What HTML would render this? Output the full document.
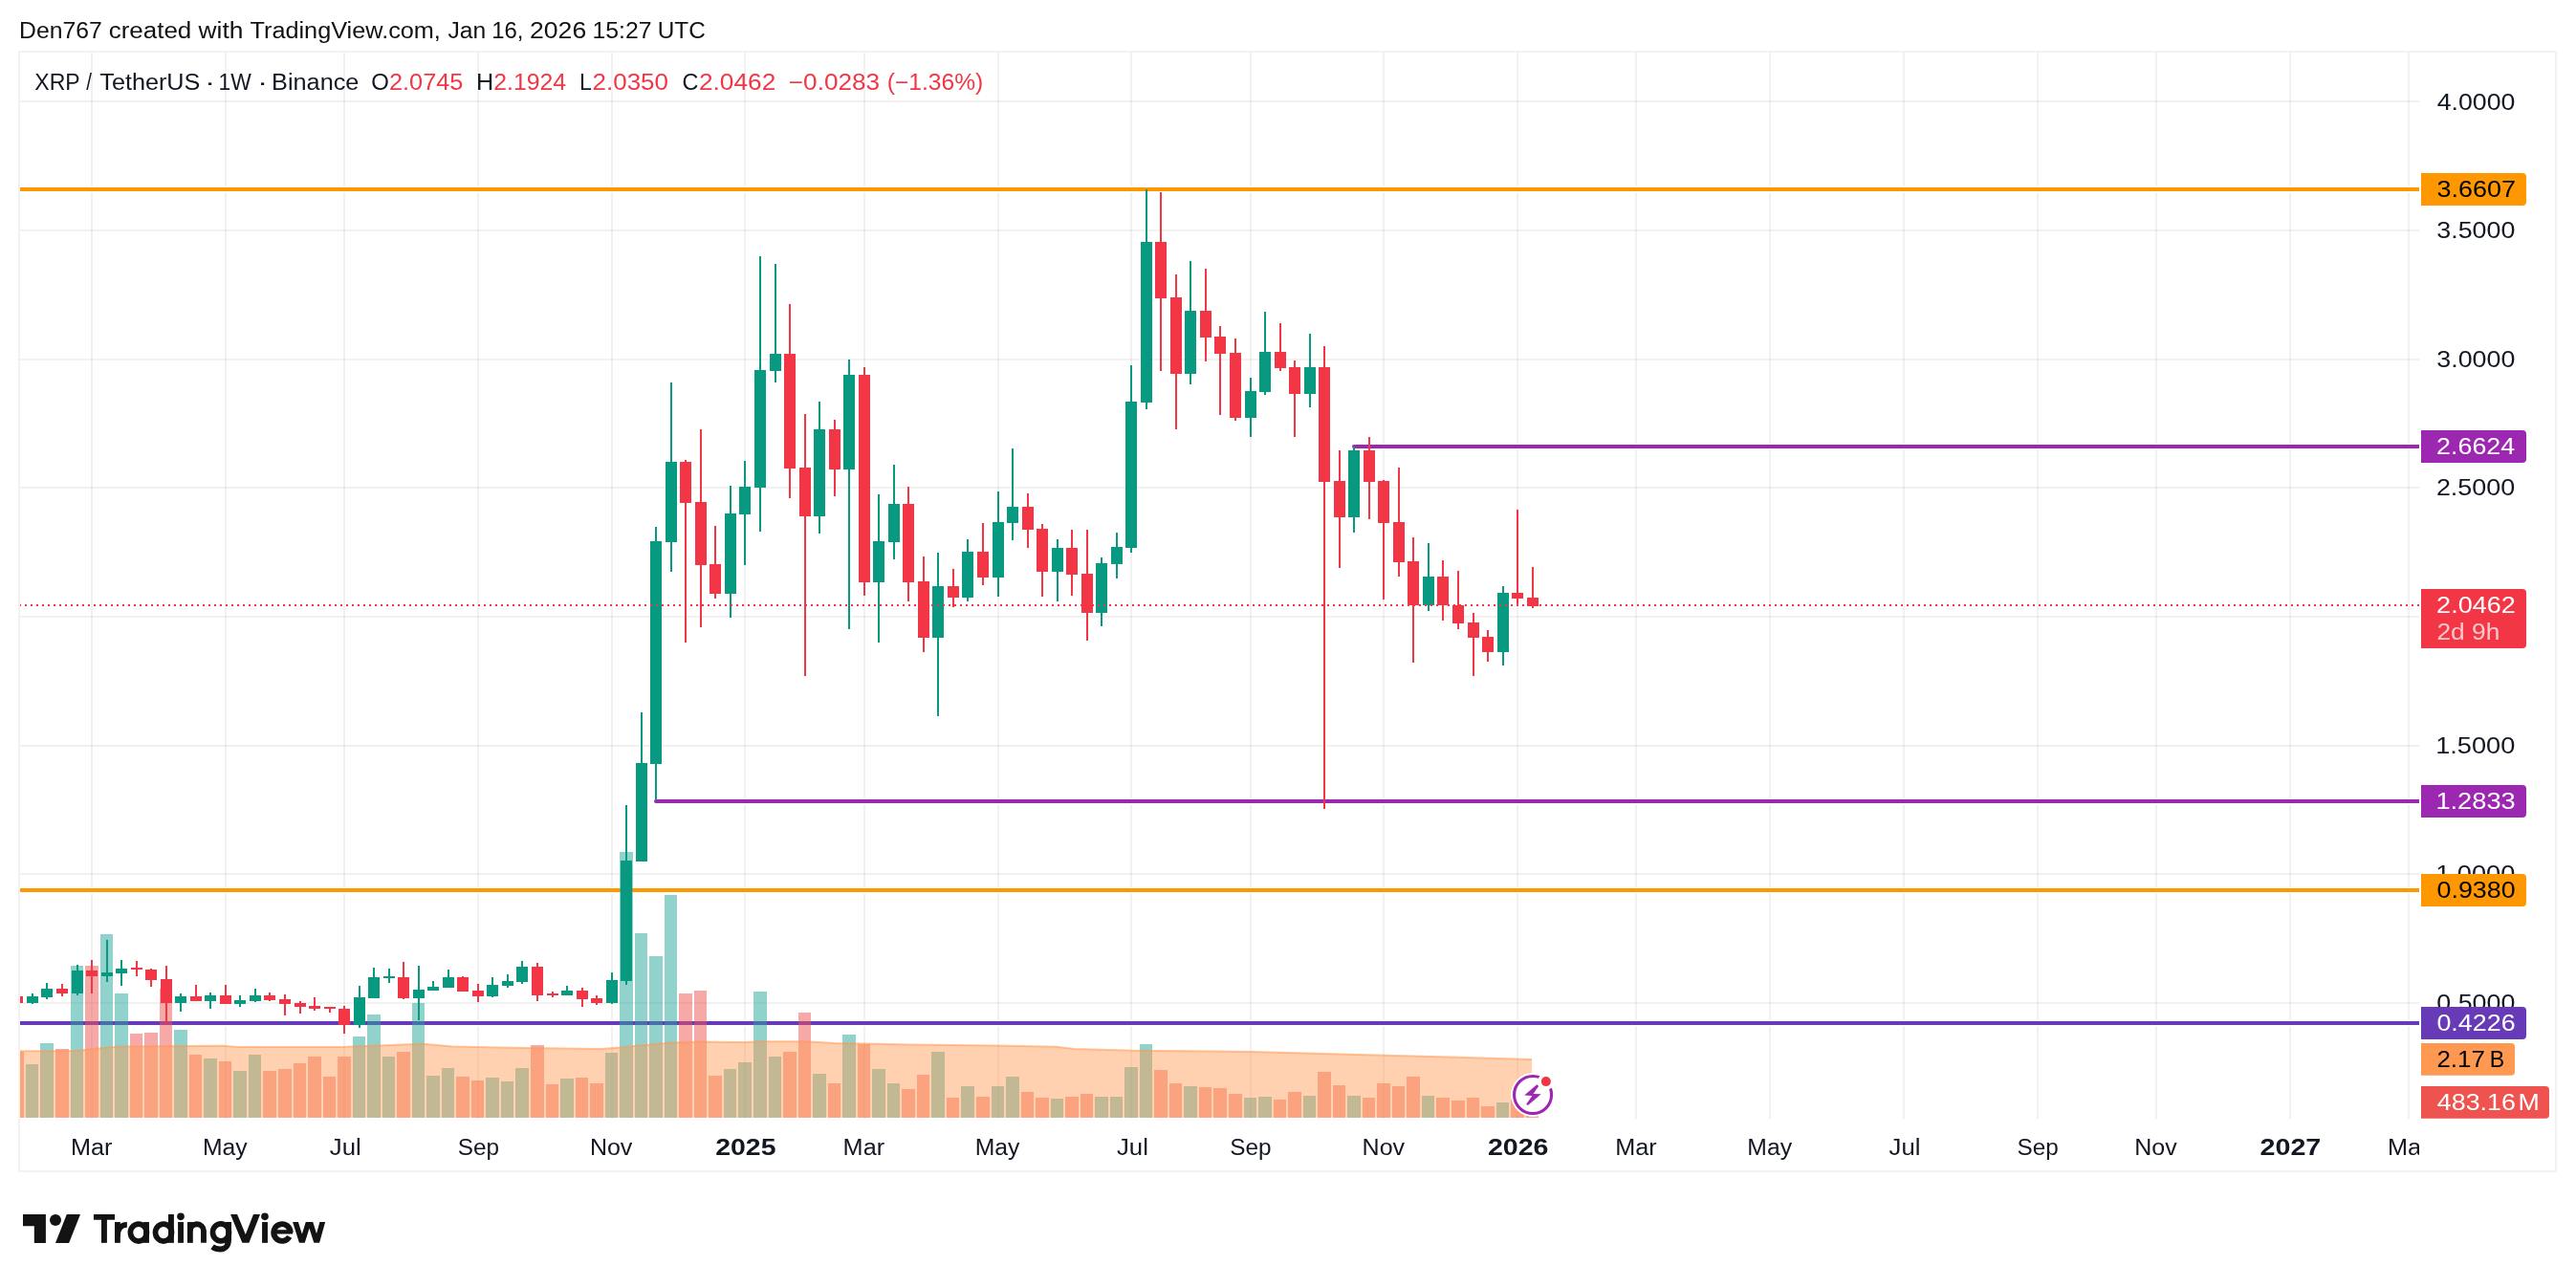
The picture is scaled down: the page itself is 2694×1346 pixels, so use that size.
<!DOCTYPE html>
<html><head><meta charset="utf-8"><title>XRP / TetherUS chart</title>
<style>html,body{margin:0;padding:0;background:#fff;}body{width:2694px;height:1346px;overflow:hidden;}svg{display:block;}text{font-family:"Liberation Sans", sans-serif;}</style></head><body>
<svg width="2694" height="1346" viewBox="0 0 2694 1346" style="will-change:transform">
<rect width="2694" height="1346" fill="#ffffff"/>
<defs><clipPath id="pane"><rect x="20" y="55" width="2510" height="1115"/></clipPath><clipPath id="taxis"><rect x="20" y="1169" width="2510" height="56"/></clipPath></defs>
<g shape-rendering="crispEdges" fill="rgba(40,52,60,0.065)">
<rect x="95" y="55" width="2" height="1115"/>
<rect x="235" y="55" width="2" height="1115"/>
<rect x="359" y="55" width="2" height="1115"/>
<rect x="499" y="55" width="2" height="1115"/>
<rect x="639" y="55" width="2" height="1115"/>
<rect x="778" y="55" width="2" height="1115"/>
<rect x="903" y="55" width="2" height="1115"/>
<rect x="1043" y="55" width="2" height="1115"/>
<rect x="1182" y="55" width="2" height="1115"/>
<rect x="1307" y="55" width="2" height="1115"/>
<rect x="1446" y="55" width="2" height="1115"/>
<rect x="1586" y="55" width="2" height="1115"/>
<rect x="1710" y="55" width="2" height="1115"/>
<rect x="1850" y="55" width="2" height="1115"/>
<rect x="1990" y="55" width="2" height="1115"/>
<rect x="2130" y="55" width="2" height="1115"/>
<rect x="2254" y="55" width="2" height="1115"/>
<rect x="2394" y="55" width="2" height="1115"/>
<rect x="2518" y="55" width="2" height="1115"/>
<rect x="20" y="105" width="2510" height="2"/>
<rect x="20" y="240" width="2510" height="2"/>
<rect x="20" y="375" width="2510" height="2"/>
<rect x="20" y="509" width="2510" height="2"/>
<rect x="20" y="644" width="2510" height="2"/>
<rect x="20" y="779" width="2510" height="2"/>
<rect x="20" y="913" width="2510" height="2"/>
<rect x="20" y="1048" width="2510" height="2"/>
</g>
<g clip-path="url(#pane)">
<line x1="20.0" y1="198.0" x2="2530.0" y2="198.0" stroke="#fff" stroke-width="6.6" stroke-linecap="butt"/>
<line x1="20.0" y1="198.0" x2="2530.0" y2="198.0" stroke="#ff9800" stroke-width="4" stroke-linecap="butt"/>
<line x1="20.0" y1="931.0" x2="2530.0" y2="931.0" stroke="#fff" stroke-width="6.6" stroke-linecap="butt"/>
<line x1="20.0" y1="931.0" x2="2530.0" y2="931.0" stroke="#ff9800" stroke-width="4" stroke-linecap="butt"/>
<line x1="20.0" y1="1070.0" x2="2530.0" y2="1070.0" stroke="#fff" stroke-width="6.6" stroke-linecap="butt"/>
<line x1="20.0" y1="1070.0" x2="2530.0" y2="1070.0" stroke="#673ab7" stroke-width="4" stroke-linecap="butt"/>
<line x1="1416.0" y1="467.0" x2="2540.0" y2="467.0" stroke="#fff" stroke-width="6.6" stroke-linecap="round"/>
<line x1="1416.0" y1="467.0" x2="2540.0" y2="467.0" stroke="#9c27b0" stroke-width="4" stroke-linecap="round"/>
<line x1="686.0" y1="838.0" x2="2540.0" y2="838.0" stroke="#fff" stroke-width="6.6" stroke-linecap="round"/>
<line x1="686.0" y1="838.0" x2="2540.0" y2="838.0" stroke="#9c27b0" stroke-width="4" stroke-linecap="round"/>
<g shape-rendering="crispEdges">
<rect x="11" y="1100.0" width="14" height="68.8" fill="rgba(239,83,80,0.5)"/>
<rect x="27" y="1113.2" width="13" height="55.6" fill="rgba(38,166,154,0.5)"/>
<rect x="42" y="1091.1" width="14" height="77.7" fill="rgba(38,166,154,0.5)"/>
<rect x="58" y="1097.0" width="14" height="71.8" fill="rgba(239,83,80,0.5)"/>
<rect x="74" y="1010.0" width="13" height="158.8" fill="rgba(38,166,154,0.5)"/>
<rect x="89" y="1010.0" width="14" height="158.8" fill="rgba(239,83,80,0.5)"/>
<rect x="105" y="977.0" width="13" height="191.8" fill="rgba(38,166,154,0.5)"/>
<rect x="120" y="1039.0" width="14" height="129.8" fill="rgba(38,166,154,0.5)"/>
<rect x="136" y="1081.0" width="13" height="87.8" fill="rgba(239,83,80,0.5)"/>
<rect x="151" y="1080.1" width="14" height="88.7" fill="rgba(239,83,80,0.5)"/>
<rect x="167" y="1033.9" width="13" height="134.9" fill="rgba(239,83,80,0.5)"/>
<rect x="182" y="1077.0" width="14" height="91.8" fill="rgba(38,166,154,0.5)"/>
<rect x="198" y="1103.1" width="13" height="65.7" fill="rgba(239,83,80,0.5)"/>
<rect x="213" y="1107.1" width="14" height="61.7" fill="rgba(38,166,154,0.5)"/>
<rect x="229" y="1110.1" width="13" height="58.7" fill="rgba(239,83,80,0.5)"/>
<rect x="244" y="1120.0" width="14" height="48.8" fill="rgba(38,166,154,0.5)"/>
<rect x="260" y="1103.1" width="13" height="65.7" fill="rgba(38,166,154,0.5)"/>
<rect x="275" y="1120.0" width="14" height="48.8" fill="rgba(239,83,80,0.5)"/>
<rect x="291" y="1118.0" width="14" height="50.8" fill="rgba(239,83,80,0.5)"/>
<rect x="307" y="1112.1" width="13" height="56.7" fill="rgba(239,83,80,0.5)"/>
<rect x="322" y="1105.1" width="14" height="63.7" fill="rgba(239,83,80,0.5)"/>
<rect x="338" y="1126.1" width="13" height="42.7" fill="rgba(239,83,80,0.5)"/>
<rect x="353" y="1105.1" width="14" height="63.7" fill="rgba(239,83,80,0.5)"/>
<rect x="369" y="1084.1" width="13" height="84.7" fill="rgba(38,166,154,0.5)"/>
<rect x="384" y="1061.1" width="14" height="107.7" fill="rgba(38,166,154,0.5)"/>
<rect x="400" y="1105.1" width="13" height="63.7" fill="rgba(38,166,154,0.5)"/>
<rect x="415" y="1100.0" width="14" height="68.8" fill="rgba(239,83,80,0.5)"/>
<rect x="431" y="1049.0" width="13" height="119.8" fill="rgba(38,166,154,0.5)"/>
<rect x="446" y="1125.0" width="14" height="43.8" fill="rgba(38,166,154,0.5)"/>
<rect x="462" y="1117.1" width="13" height="51.7" fill="rgba(38,166,154,0.5)"/>
<rect x="477" y="1126.1" width="14" height="42.7" fill="rgba(239,83,80,0.5)"/>
<rect x="493" y="1130.0" width="13" height="38.8" fill="rgba(239,83,80,0.5)"/>
<rect x="508" y="1127.0" width="14" height="41.8" fill="rgba(38,166,154,0.5)"/>
<rect x="524" y="1131.0" width="13" height="37.8" fill="rgba(38,166,154,0.5)"/>
<rect x="539" y="1117.1" width="14" height="51.7" fill="rgba(38,166,154,0.5)"/>
<rect x="555" y="1093.0" width="14" height="75.8" fill="rgba(239,83,80,0.5)"/>
<rect x="571" y="1134.0" width="13" height="34.8" fill="rgba(239,83,80,0.5)"/>
<rect x="586" y="1128.1" width="14" height="40.7" fill="rgba(38,166,154,0.5)"/>
<rect x="602" y="1127.0" width="13" height="41.8" fill="rgba(239,83,80,0.5)"/>
<rect x="617" y="1133.1" width="14" height="35.7" fill="rgba(239,83,80,0.5)"/>
<rect x="633" y="1101.0" width="13" height="67.8" fill="rgba(38,166,154,0.5)"/>
<rect x="648" y="891.0" width="14" height="277.8" fill="rgba(38,166,154,0.5)"/>
<rect x="664" y="975.9" width="13" height="192.9" fill="rgba(38,166,154,0.5)"/>
<rect x="679" y="1000.0" width="14" height="168.8" fill="rgba(38,166,154,0.5)"/>
<rect x="695" y="936.0" width="13" height="232.8" fill="rgba(38,166,154,0.5)"/>
<rect x="710" y="1039.0" width="14" height="129.8" fill="rgba(239,83,80,0.5)"/>
<rect x="726" y="1036.0" width="13" height="132.8" fill="rgba(239,83,80,0.5)"/>
<rect x="741" y="1124.9" width="14" height="43.9" fill="rgba(239,83,80,0.5)"/>
<rect x="757" y="1117.9" width="13" height="50.9" fill="rgba(38,166,154,0.5)"/>
<rect x="772" y="1111.0" width="14" height="57.8" fill="rgba(38,166,154,0.5)"/>
<rect x="788" y="1037.0" width="14" height="131.8" fill="rgba(38,166,154,0.5)"/>
<rect x="804" y="1105.0" width="13" height="63.8" fill="rgba(38,166,154,0.5)"/>
<rect x="819" y="1099.9" width="14" height="68.9" fill="rgba(239,83,80,0.5)"/>
<rect x="835" y="1059.0" width="13" height="109.8" fill="rgba(239,83,80,0.5)"/>
<rect x="850" y="1122.9" width="14" height="45.9" fill="rgba(38,166,154,0.5)"/>
<rect x="866" y="1133.0" width="13" height="35.8" fill="rgba(239,83,80,0.5)"/>
<rect x="881" y="1081.9" width="14" height="86.9" fill="rgba(38,166,154,0.5)"/>
<rect x="897" y="1092.0" width="13" height="76.8" fill="rgba(239,83,80,0.5)"/>
<rect x="912" y="1117.9" width="14" height="50.9" fill="rgba(38,166,154,0.5)"/>
<rect x="928" y="1133.0" width="13" height="35.8" fill="rgba(38,166,154,0.5)"/>
<rect x="943" y="1138.9" width="14" height="29.9" fill="rgba(239,83,80,0.5)"/>
<rect x="959" y="1124.0" width="13" height="44.8" fill="rgba(239,83,80,0.5)"/>
<rect x="974" y="1099.9" width="14" height="68.9" fill="rgba(38,166,154,0.5)"/>
<rect x="990" y="1148.0" width="13" height="20.8" fill="rgba(239,83,80,0.5)"/>
<rect x="1005" y="1136.0" width="14" height="32.8" fill="rgba(38,166,154,0.5)"/>
<rect x="1021" y="1147.0" width="14" height="21.8" fill="rgba(239,83,80,0.5)"/>
<rect x="1037" y="1136.0" width="13" height="32.8" fill="rgba(38,166,154,0.5)"/>
<rect x="1052" y="1126.0" width="14" height="42.8" fill="rgba(38,166,154,0.5)"/>
<rect x="1068" y="1142.0" width="13" height="26.8" fill="rgba(239,83,80,0.5)"/>
<rect x="1083" y="1148.0" width="14" height="20.8" fill="rgba(239,83,80,0.5)"/>
<rect x="1099" y="1149.0" width="13" height="19.8" fill="rgba(38,166,154,0.5)"/>
<rect x="1114" y="1147.0" width="14" height="21.8" fill="rgba(239,83,80,0.5)"/>
<rect x="1130" y="1144.0" width="13" height="24.8" fill="rgba(239,83,80,0.5)"/>
<rect x="1145" y="1147.0" width="14" height="21.8" fill="rgba(38,166,154,0.5)"/>
<rect x="1161" y="1147.0" width="13" height="21.8" fill="rgba(38,166,154,0.5)"/>
<rect x="1176" y="1115.9" width="14" height="52.9" fill="rgba(38,166,154,0.5)"/>
<rect x="1192" y="1092.0" width="13" height="76.8" fill="rgba(38,166,154,0.5)"/>
<rect x="1207" y="1118.9" width="14" height="49.9" fill="rgba(239,83,80,0.5)"/>
<rect x="1223" y="1133.0" width="13" height="35.8" fill="rgba(239,83,80,0.5)"/>
<rect x="1238" y="1136.0" width="14" height="32.8" fill="rgba(38,166,154,0.5)"/>
<rect x="1254" y="1137.0" width="13" height="31.8" fill="rgba(239,83,80,0.5)"/>
<rect x="1269" y="1138.0" width="14" height="30.8" fill="rgba(239,83,80,0.5)"/>
<rect x="1285" y="1144.0" width="14" height="24.8" fill="rgba(239,83,80,0.5)"/>
<rect x="1301" y="1148.0" width="13" height="20.8" fill="rgba(38,166,154,0.5)"/>
<rect x="1316" y="1147.0" width="14" height="21.8" fill="rgba(38,166,154,0.5)"/>
<rect x="1332" y="1150.0" width="13" height="18.8" fill="rgba(239,83,80,0.5)"/>
<rect x="1347" y="1142.0" width="14" height="26.8" fill="rgba(239,83,80,0.5)"/>
<rect x="1363" y="1146.0" width="13" height="22.8" fill="rgba(38,166,154,0.5)"/>
<rect x="1378" y="1120.9" width="14" height="47.9" fill="rgba(239,83,80,0.5)"/>
<rect x="1394" y="1135.0" width="13" height="33.8" fill="rgba(239,83,80,0.5)"/>
<rect x="1409" y="1146.0" width="14" height="22.8" fill="rgba(38,166,154,0.5)"/>
<rect x="1425" y="1148.0" width="13" height="20.8" fill="rgba(239,83,80,0.5)"/>
<rect x="1440" y="1133.0" width="14" height="35.8" fill="rgba(239,83,80,0.5)"/>
<rect x="1456" y="1136.0" width="13" height="32.8" fill="rgba(239,83,80,0.5)"/>
<rect x="1471" y="1126.0" width="14" height="42.8" fill="rgba(239,83,80,0.5)"/>
<rect x="1487" y="1146.0" width="13" height="22.8" fill="rgba(38,166,154,0.5)"/>
<rect x="1502" y="1148.0" width="14" height="20.8" fill="rgba(239,83,80,0.5)"/>
<rect x="1518" y="1151.0" width="14" height="17.8" fill="rgba(239,83,80,0.5)"/>
<rect x="1534" y="1148.0" width="13" height="20.8" fill="rgba(239,83,80,0.5)"/>
<rect x="1549" y="1157.0" width="14" height="11.8" fill="rgba(239,83,80,0.5)"/>
<rect x="1565" y="1153.0" width="13" height="15.8" fill="rgba(38,166,154,0.5)"/>
<rect x="1580" y="1150.0" width="14" height="18.8" fill="rgba(239,83,80,0.5)"/>
<rect x="1596" y="1152.0" width="13" height="16.8" fill="rgba(239,83,80,0.5)"/>
</g>
<polygon points="20.2,1099.2 77.7,1098.9 124.3,1094.5 233.1,1093.7 248.6,1095.0 357.4,1095.0 388.5,1093.7 442.2,1091.7 473.2,1094.5 550.9,1096.1 628.6,1096.9 651.9,1095.3 663.3,1093.9 702.2,1090.4 733.2,1089.6 779.9,1090.1 795.4,1089.2 842.0,1089.2 873.1,1090.9 904.2,1091.4 950.8,1092.5 1040.0,1093.4 1104.6,1094.8 1123.2,1097.1 1185.4,1098.7 1309.7,1099.9 1430.0,1103.2 1602.1,1107.9 1602.1,1168.8 20.2,1168.8" fill="rgba(255,152,80,0.45)"/>
<polyline points="20.2,1099.2 77.7,1098.9 124.3,1094.5 233.1,1093.7 248.6,1095.0 357.4,1095.0 388.5,1093.7 442.2,1091.7 473.2,1094.5 550.9,1096.1 628.6,1096.9 651.9,1095.3 663.3,1093.9 702.2,1090.4 733.2,1089.6 779.9,1090.1 795.4,1089.2 842.0,1089.2 873.1,1090.9 904.2,1091.4 950.8,1092.5 1040.0,1093.4 1104.6,1094.8 1123.2,1097.1 1185.4,1098.7 1309.7,1099.9 1430.0,1103.2 1602.1,1107.9" fill="none" stroke="rgba(255,152,80,0.55)" stroke-width="2"/>
<g shape-rendering="crispEdges">
<rect x="17" y="1042" width="2" height="7" fill="#f23645"/>
<rect x="12" y="1042" width="12" height="7" fill="#f23645"/>
<rect x="33" y="1039" width="2" height="11" fill="#089981"/>
<rect x="28" y="1042" width="12" height="7" fill="#089981"/>
<rect x="48" y="1028" width="2" height="17" fill="#089981"/>
<rect x="43" y="1034" width="12" height="9" fill="#089981"/>
<rect x="64" y="1029" width="2" height="13" fill="#f23645"/>
<rect x="59" y="1034" width="12" height="5" fill="#f23645"/>
<rect x="80" y="1009" width="2" height="32" fill="#089981"/>
<rect x="75" y="1015" width="12" height="24" fill="#089981"/>
<rect x="95" y="1004" width="2" height="35" fill="#f23645"/>
<rect x="90" y="1015" width="12" height="6" fill="#f23645"/>
<rect x="111" y="983" width="2" height="44" fill="#089981"/>
<rect x="106" y="1017" width="12" height="4" fill="#089981"/>
<rect x="126" y="1004" width="2" height="27" fill="#089981"/>
<rect x="121" y="1013" width="12" height="5" fill="#089981"/>
<rect x="142" y="1005" width="2" height="16" fill="#f23645"/>
<rect x="137" y="1012" width="12" height="2" fill="#f23645"/>
<rect x="157" y="1013" width="2" height="19" fill="#f23645"/>
<rect x="152" y="1014" width="12" height="11" fill="#f23645"/>
<rect x="173" y="1010" width="2" height="61" fill="#f23645"/>
<rect x="168" y="1024" width="12" height="25" fill="#f23645"/>
<rect x="188" y="1039" width="2" height="19" fill="#089981"/>
<rect x="183" y="1042" width="12" height="7" fill="#089981"/>
<rect x="204" y="1030" width="2" height="17" fill="#f23645"/>
<rect x="199" y="1042" width="12" height="5" fill="#f23645"/>
<rect x="219" y="1038" width="2" height="17" fill="#089981"/>
<rect x="214" y="1041" width="12" height="6" fill="#089981"/>
<rect x="235" y="1030" width="2" height="20" fill="#f23645"/>
<rect x="230" y="1041" width="12" height="9" fill="#f23645"/>
<rect x="250" y="1041" width="2" height="12" fill="#089981"/>
<rect x="245" y="1046" width="12" height="4" fill="#089981"/>
<rect x="266" y="1034" width="2" height="14" fill="#089981"/>
<rect x="261" y="1041" width="12" height="6" fill="#089981"/>
<rect x="281" y="1038" width="2" height="9" fill="#f23645"/>
<rect x="276" y="1041" width="12" height="5" fill="#f23645"/>
<rect x="297" y="1040" width="2" height="22" fill="#f23645"/>
<rect x="292" y="1045" width="12" height="5" fill="#f23645"/>
<rect x="313" y="1047" width="2" height="13" fill="#f23645"/>
<rect x="308" y="1049" width="12" height="4" fill="#f23645"/>
<rect x="328" y="1043" width="2" height="14" fill="#f23645"/>
<rect x="323" y="1052" width="12" height="3" fill="#f23645"/>
<rect x="344" y="1053" width="2" height="6" fill="#f23645"/>
<rect x="339" y="1053" width="12" height="2" fill="#f23645"/>
<rect x="359" y="1052" width="2" height="29" fill="#f23645"/>
<rect x="354" y="1055" width="12" height="17" fill="#f23645"/>
<rect x="375" y="1031" width="2" height="44" fill="#089981"/>
<rect x="370" y="1043" width="12" height="29" fill="#089981"/>
<rect x="390" y="1012" width="2" height="32" fill="#089981"/>
<rect x="385" y="1022" width="12" height="22" fill="#089981"/>
<rect x="406" y="1013" width="2" height="15" fill="#089981"/>
<rect x="401" y="1021" width="12" height="2" fill="#089981"/>
<rect x="421" y="1006" width="2" height="39" fill="#f23645"/>
<rect x="416" y="1022" width="12" height="22" fill="#f23645"/>
<rect x="437" y="1010" width="2" height="57" fill="#089981"/>
<rect x="432" y="1035" width="12" height="9" fill="#089981"/>
<rect x="452" y="1026" width="2" height="10" fill="#089981"/>
<rect x="447" y="1032" width="12" height="4" fill="#089981"/>
<rect x="468" y="1014" width="2" height="19" fill="#089981"/>
<rect x="463" y="1022" width="12" height="11" fill="#089981"/>
<rect x="483" y="1021" width="2" height="16" fill="#f23645"/>
<rect x="478" y="1022" width="12" height="15" fill="#f23645"/>
<rect x="499" y="1029" width="2" height="19" fill="#f23645"/>
<rect x="494" y="1036" width="12" height="6" fill="#f23645"/>
<rect x="514" y="1022" width="2" height="21" fill="#089981"/>
<rect x="509" y="1030" width="12" height="12" fill="#089981"/>
<rect x="530" y="1019" width="2" height="14" fill="#089981"/>
<rect x="525" y="1026" width="12" height="5" fill="#089981"/>
<rect x="545" y="1005" width="2" height="24" fill="#089981"/>
<rect x="540" y="1011" width="12" height="16" fill="#089981"/>
<rect x="561" y="1007" width="2" height="40" fill="#f23645"/>
<rect x="556" y="1011" width="12" height="30" fill="#f23645"/>
<rect x="577" y="1037" width="2" height="6" fill="#f23645"/>
<rect x="572" y="1039" width="12" height="2" fill="#f23645"/>
<rect x="592" y="1031" width="2" height="10" fill="#089981"/>
<rect x="587" y="1036" width="12" height="5" fill="#089981"/>
<rect x="608" y="1033" width="2" height="20" fill="#f23645"/>
<rect x="603" y="1036" width="12" height="9" fill="#f23645"/>
<rect x="623" y="1041" width="2" height="10" fill="#f23645"/>
<rect x="618" y="1044" width="12" height="5" fill="#f23645"/>
<rect x="639" y="1017" width="2" height="33" fill="#089981"/>
<rect x="634" y="1025" width="12" height="24" fill="#089981"/>
<rect x="654" y="842" width="2" height="188" fill="#089981"/>
<rect x="649" y="900" width="12" height="126" fill="#089981"/>
<rect x="670" y="745" width="2" height="156" fill="#089981"/>
<rect x="665" y="798" width="12" height="103" fill="#089981"/>
<rect x="685" y="551" width="2" height="286" fill="#089981"/>
<rect x="680" y="566" width="12" height="233" fill="#089981"/>
<rect x="701" y="400" width="2" height="198" fill="#089981"/>
<rect x="696" y="483" width="12" height="84" fill="#089981"/>
<rect x="716" y="481" width="2" height="191" fill="#f23645"/>
<rect x="711" y="483" width="12" height="43" fill="#f23645"/>
<rect x="732" y="449" width="2" height="207" fill="#f23645"/>
<rect x="727" y="525" width="12" height="66" fill="#f23645"/>
<rect x="747" y="550" width="2" height="76" fill="#f23645"/>
<rect x="742" y="590" width="12" height="31" fill="#f23645"/>
<rect x="763" y="508" width="2" height="138" fill="#089981"/>
<rect x="758" y="537" width="12" height="84" fill="#089981"/>
<rect x="778" y="482" width="2" height="109" fill="#089981"/>
<rect x="773" y="509" width="12" height="29" fill="#089981"/>
<rect x="794" y="268" width="2" height="288" fill="#089981"/>
<rect x="789" y="387" width="12" height="123" fill="#089981"/>
<rect x="810" y="276" width="2" height="124" fill="#089981"/>
<rect x="805" y="370" width="12" height="18" fill="#089981"/>
<rect x="825" y="318" width="2" height="203" fill="#f23645"/>
<rect x="820" y="370" width="12" height="120" fill="#f23645"/>
<rect x="841" y="433" width="2" height="274" fill="#f23645"/>
<rect x="836" y="489" width="12" height="51" fill="#f23645"/>
<rect x="856" y="420" width="2" height="138" fill="#089981"/>
<rect x="851" y="449" width="12" height="91" fill="#089981"/>
<rect x="872" y="439" width="2" height="80" fill="#f23645"/>
<rect x="867" y="449" width="12" height="42" fill="#f23645"/>
<rect x="887" y="376" width="2" height="282" fill="#089981"/>
<rect x="882" y="392" width="12" height="99" fill="#089981"/>
<rect x="903" y="384" width="2" height="239" fill="#f23645"/>
<rect x="898" y="392" width="12" height="217" fill="#f23645"/>
<rect x="918" y="517" width="2" height="155" fill="#089981"/>
<rect x="913" y="566" width="12" height="43" fill="#089981"/>
<rect x="934" y="486" width="2" height="99" fill="#089981"/>
<rect x="929" y="527" width="12" height="40" fill="#089981"/>
<rect x="949" y="509" width="2" height="120" fill="#f23645"/>
<rect x="944" y="527" width="12" height="82" fill="#f23645"/>
<rect x="965" y="582" width="2" height="100" fill="#f23645"/>
<rect x="960" y="608" width="12" height="59" fill="#f23645"/>
<rect x="980" y="578" width="2" height="171" fill="#089981"/>
<rect x="975" y="613" width="12" height="54" fill="#089981"/>
<rect x="996" y="595" width="2" height="40" fill="#f23645"/>
<rect x="991" y="613" width="12" height="12" fill="#f23645"/>
<rect x="1011" y="564" width="2" height="65" fill="#089981"/>
<rect x="1006" y="577" width="12" height="48" fill="#089981"/>
<rect x="1027" y="547" width="2" height="65" fill="#f23645"/>
<rect x="1022" y="577" width="12" height="27" fill="#f23645"/>
<rect x="1043" y="514" width="2" height="110" fill="#089981"/>
<rect x="1038" y="546" width="12" height="58" fill="#089981"/>
<rect x="1058" y="469" width="2" height="96" fill="#089981"/>
<rect x="1053" y="530" width="12" height="17" fill="#089981"/>
<rect x="1074" y="516" width="2" height="57" fill="#f23645"/>
<rect x="1069" y="530" width="12" height="24" fill="#f23645"/>
<rect x="1089" y="548" width="2" height="76" fill="#f23645"/>
<rect x="1084" y="553" width="12" height="45" fill="#f23645"/>
<rect x="1105" y="564" width="2" height="65" fill="#089981"/>
<rect x="1100" y="573" width="12" height="25" fill="#089981"/>
<rect x="1120" y="554" width="2" height="69" fill="#f23645"/>
<rect x="1115" y="573" width="12" height="28" fill="#f23645"/>
<rect x="1136" y="554" width="2" height="116" fill="#f23645"/>
<rect x="1131" y="600" width="12" height="41" fill="#f23645"/>
<rect x="1151" y="583" width="2" height="72" fill="#089981"/>
<rect x="1146" y="589" width="12" height="52" fill="#089981"/>
<rect x="1167" y="557" width="2" height="48" fill="#089981"/>
<rect x="1162" y="572" width="12" height="18" fill="#089981"/>
<rect x="1182" y="382" width="2" height="196" fill="#089981"/>
<rect x="1177" y="420" width="12" height="153" fill="#089981"/>
<rect x="1198" y="198" width="2" height="230" fill="#089981"/>
<rect x="1193" y="253" width="12" height="168" fill="#089981"/>
<rect x="1213" y="201" width="2" height="187" fill="#f23645"/>
<rect x="1208" y="253" width="12" height="59" fill="#f23645"/>
<rect x="1229" y="287" width="2" height="162" fill="#f23645"/>
<rect x="1224" y="311" width="12" height="80" fill="#f23645"/>
<rect x="1244" y="273" width="2" height="129" fill="#089981"/>
<rect x="1239" y="325" width="12" height="66" fill="#089981"/>
<rect x="1260" y="281" width="2" height="97" fill="#f23645"/>
<rect x="1255" y="325" width="12" height="28" fill="#f23645"/>
<rect x="1275" y="341" width="2" height="93" fill="#f23645"/>
<rect x="1270" y="352" width="12" height="18" fill="#f23645"/>
<rect x="1291" y="354" width="2" height="86" fill="#f23645"/>
<rect x="1286" y="369" width="12" height="68" fill="#f23645"/>
<rect x="1307" y="395" width="2" height="62" fill="#089981"/>
<rect x="1302" y="409" width="12" height="28" fill="#089981"/>
<rect x="1322" y="326" width="2" height="87" fill="#089981"/>
<rect x="1317" y="368" width="12" height="42" fill="#089981"/>
<rect x="1338" y="338" width="2" height="50" fill="#f23645"/>
<rect x="1333" y="368" width="12" height="17" fill="#f23645"/>
<rect x="1353" y="377" width="2" height="80" fill="#f23645"/>
<rect x="1348" y="384" width="12" height="28" fill="#f23645"/>
<rect x="1369" y="349" width="2" height="77" fill="#089981"/>
<rect x="1364" y="384" width="12" height="28" fill="#089981"/>
<rect x="1384" y="362" width="2" height="484" fill="#f23645"/>
<rect x="1379" y="384" width="12" height="120" fill="#f23645"/>
<rect x="1400" y="471" width="2" height="123" fill="#f23645"/>
<rect x="1395" y="503" width="12" height="38" fill="#f23645"/>
<rect x="1415" y="467" width="2" height="90" fill="#089981"/>
<rect x="1410" y="471" width="12" height="70" fill="#089981"/>
<rect x="1431" y="457" width="2" height="86" fill="#f23645"/>
<rect x="1426" y="471" width="12" height="33" fill="#f23645"/>
<rect x="1446" y="502" width="2" height="125" fill="#f23645"/>
<rect x="1441" y="503" width="12" height="44" fill="#f23645"/>
<rect x="1462" y="489" width="2" height="114" fill="#f23645"/>
<rect x="1457" y="546" width="12" height="42" fill="#f23645"/>
<rect x="1477" y="562" width="2" height="131" fill="#f23645"/>
<rect x="1472" y="587" width="12" height="46" fill="#f23645"/>
<rect x="1493" y="568" width="2" height="71" fill="#089981"/>
<rect x="1488" y="603" width="12" height="30" fill="#089981"/>
<rect x="1508" y="586" width="2" height="63" fill="#f23645"/>
<rect x="1503" y="603" width="12" height="30" fill="#f23645"/>
<rect x="1524" y="597" width="2" height="61" fill="#f23645"/>
<rect x="1519" y="633" width="12" height="19" fill="#f23645"/>
<rect x="1540" y="641" width="2" height="66" fill="#f23645"/>
<rect x="1535" y="651" width="12" height="16" fill="#f23645"/>
<rect x="1555" y="659" width="2" height="33" fill="#f23645"/>
<rect x="1550" y="666" width="12" height="16" fill="#f23645"/>
<rect x="1571" y="613" width="2" height="83" fill="#089981"/>
<rect x="1566" y="620" width="12" height="62" fill="#089981"/>
<rect x="1586" y="533" width="2" height="101" fill="#f23645"/>
<rect x="1581" y="620" width="12" height="6" fill="#f23645"/>
<rect x="1602" y="593" width="2" height="43" fill="#f23645"/>
<rect x="1597" y="625" width="12" height="9" fill="#f23645"/>
</g>
<line x1="20" y1="633" x2="2530" y2="633" stroke="#f23645" stroke-width="2" stroke-dasharray="2 4" shape-rendering="crispEdges"/>
</g>
<circle cx="1603.05" cy="1145.00" r="23" fill="#fff"/>
<circle cx="1603.05" cy="1145.00" r="19.5" fill="none" stroke="#9c27b0" stroke-width="3.1"/>
<polygon points="1607.3,1134.2 1594.2,1145.5 1602.4,1145.9 1596.2,1154.7 1597.9,1156.0 1611.7,1144.3 1603.5,1144.0 1609.1,1136.1" fill="#9c27b0"/>
<circle cx="1616.85" cy="1131.1" r="8.8" fill="#fff"/>
<circle cx="1616.85" cy="1131.1" r="5" fill="#f23645"/>
<text x="20.1" y="39.9" font-size="23.5" fill="#111111" text-anchor="start" font-weight="normal" textLength="86.7" lengthAdjust="spacingAndGlyphs">Den767</text>
<text x="113.7" y="39.9" font-size="23.5" fill="#111111" text-anchor="start" font-weight="normal" textLength="86.6" lengthAdjust="spacingAndGlyphs">created</text>
<text x="207.6" y="39.9" font-size="23.5" fill="#111111" text-anchor="start" font-weight="normal" textLength="46.8" lengthAdjust="spacingAndGlyphs">with</text>
<text x="261.5" y="39.9" font-size="23.5" fill="#111111" text-anchor="start" font-weight="normal" textLength="199.4" lengthAdjust="spacingAndGlyphs">TradingView.com,</text>
<text x="468.4" y="39.9" font-size="23.5" fill="#111111" text-anchor="start" font-weight="normal" textLength="39.7" lengthAdjust="spacingAndGlyphs">Jan</text>
<text x="514.2" y="39.9" font-size="23.5" fill="#111111" text-anchor="start" font-weight="normal" textLength="33.3" lengthAdjust="spacingAndGlyphs">16,</text>
<text x="554.0" y="39.9" font-size="23.5" fill="#111111" text-anchor="start" font-weight="normal" textLength="59.2" lengthAdjust="spacingAndGlyphs">2026</text>
<text x="619.5" y="39.9" font-size="23.5" fill="#111111" text-anchor="start" font-weight="normal" textLength="62.1" lengthAdjust="spacingAndGlyphs">15:27</text>
<text x="687.8" y="39.9" font-size="23.5" fill="#111111" text-anchor="start" font-weight="normal" textLength="50.0" lengthAdjust="spacingAndGlyphs">UTC</text>
<text x="36.3" y="94.0" font-size="23.5" fill="#131722" text-anchor="start" font-weight="normal" textLength="47.4" lengthAdjust="spacingAndGlyphs">XRP</text>
<text x="90.2" y="94.0" font-size="23.5" fill="#131722" text-anchor="start" font-weight="normal" textLength="5.7" lengthAdjust="spacingAndGlyphs">/</text>
<text x="104.3" y="94.0" font-size="23.5" fill="#131722" text-anchor="start" font-weight="normal" textLength="105.1" lengthAdjust="spacingAndGlyphs">TetherUS</text>
<text x="214.1" y="94.0" font-size="23.5" fill="#131722" text-anchor="start" font-weight="normal" textLength="11.2" lengthAdjust="spacingAndGlyphs">&#183;</text>
<text x="228.6" y="94.0" font-size="23.5" fill="#131722" text-anchor="start" font-weight="normal" textLength="34.3" lengthAdjust="spacingAndGlyphs">1W</text>
<text x="269.0" y="94.0" font-size="23.5" fill="#131722" text-anchor="start" font-weight="normal" textLength="11.2" lengthAdjust="spacingAndGlyphs">&#183;</text>
<text x="284.1" y="94.0" font-size="23.5" fill="#131722" text-anchor="start" font-weight="normal" textLength="91.3" lengthAdjust="spacingAndGlyphs">Binance</text>
<text x="388.3" y="94.0" font-size="23.5" fill="#131722" text-anchor="start" font-weight="normal" textLength="18.6" lengthAdjust="spacingAndGlyphs">O</text>
<text x="407.0" y="94.0" font-size="23.5" fill="#f23645" text-anchor="start" font-weight="normal" textLength="77.3" lengthAdjust="spacingAndGlyphs">2.0745</text>
<text x="497.9" y="94.0" font-size="23.5" fill="#131722" text-anchor="start" font-weight="normal" textLength="18.2" lengthAdjust="spacingAndGlyphs">H</text>
<text x="516.2" y="94.0" font-size="23.5" fill="#f23645" text-anchor="start" font-weight="normal" textLength="75.9" lengthAdjust="spacingAndGlyphs">2.1924</text>
<text x="605.9" y="94.0" font-size="23.5" fill="#131722" text-anchor="start" font-weight="normal" textLength="12.9" lengthAdjust="spacingAndGlyphs">L</text>
<text x="619.6" y="94.0" font-size="23.5" fill="#f23645" text-anchor="start" font-weight="normal" textLength="79.4" lengthAdjust="spacingAndGlyphs">2.0350</text>
<text x="713.6" y="94.0" font-size="23.5" fill="#131722" text-anchor="start" font-weight="normal" textLength="16.9" lengthAdjust="spacingAndGlyphs">C</text>
<text x="730.9" y="94.0" font-size="23.5" fill="#f23645" text-anchor="start" font-weight="normal" textLength="80.4" lengthAdjust="spacingAndGlyphs">2.0462</text>
<text x="824.8" y="94.0" font-size="23.5" fill="#f23645" text-anchor="start" font-weight="normal" textLength="95.4" lengthAdjust="spacingAndGlyphs">&#8722;0.0283</text>
<text x="927.8" y="94.0" font-size="23.5" fill="#f23645" text-anchor="start" font-weight="normal" textLength="100.4" lengthAdjust="spacingAndGlyphs">(&#8722;1.36%)</text>
<text x="2548.7" y="115.0" font-size="23.5" fill="#131722" text-anchor="start" font-weight="normal" textLength="81.7" lengthAdjust="spacingAndGlyphs">4.0000</text>
<text x="2548.3" y="249.0" font-size="23.5" fill="#131722" text-anchor="start" font-weight="normal" textLength="82.1" lengthAdjust="spacingAndGlyphs">3.5000</text>
<text x="2548.3" y="384.0" font-size="23.5" fill="#131722" text-anchor="start" font-weight="normal" textLength="82.1" lengthAdjust="spacingAndGlyphs">3.0000</text>
<text x="2547.9" y="518.0" font-size="23.5" fill="#131722" text-anchor="start" font-weight="normal" textLength="82.4" lengthAdjust="spacingAndGlyphs">2.5000</text>
<text x="2547.2" y="788.0" font-size="23.5" fill="#131722" text-anchor="start" font-weight="normal" textLength="83.1" lengthAdjust="spacingAndGlyphs">1.5000</text>
<text x="2547.2" y="922.0" font-size="23.5" fill="#131722" text-anchor="start" font-weight="normal" textLength="83.1" lengthAdjust="spacingAndGlyphs">1.0000</text>
<text x="2548.3" y="1057.0" font-size="23.5" fill="#131722" text-anchor="start" font-weight="normal" textLength="82.1" lengthAdjust="spacingAndGlyphs">0.5000</text>
<path d="M2532.0 181.1 H2638.0 Q2642.0 181.1 2642.0 185.1 V210.9 Q2642.0 214.9 2638.0 214.9 H2532.0 Z" fill="#ff9800"/>
<text x="2548.5" y="206.0" font-size="23.5" fill="#000" text-anchor="start" font-weight="normal" textLength="82.4" lengthAdjust="spacingAndGlyphs">3.6607</text>
<path d="M2532.0 450.1 H2638.0 Q2642.0 450.1 2642.0 454.1 V479.9 Q2642.0 483.9 2638.0 483.9 H2532.0 Z" fill="#9c27b0"/>
<text x="2548.1" y="475.0" font-size="23.5" fill="#fff" text-anchor="start" font-weight="normal" textLength="82.1" lengthAdjust="spacingAndGlyphs">2.6624</text>
<path d="M2532.0 821.1 H2638.0 Q2642.0 821.1 2642.0 825.1 V850.9 Q2642.0 854.9 2638.0 854.9 H2532.0 Z" fill="#9c27b0"/>
<text x="2547.4" y="846.0" font-size="23.5" fill="#fff" text-anchor="start" font-weight="normal" textLength="83.3" lengthAdjust="spacingAndGlyphs">1.2833</text>
<path d="M2532.0 914.1 H2638.0 Q2642.0 914.1 2642.0 918.1 V943.9 Q2642.0 947.9 2638.0 947.9 H2532.0 Z" fill="#ff9800"/>
<text x="2548.5" y="939.0" font-size="23.5" fill="#000" text-anchor="start" font-weight="normal" textLength="82.1" lengthAdjust="spacingAndGlyphs">0.9380</text>
<path d="M2532.0 1053.1 H2638.0 Q2642.0 1053.1 2642.0 1057.1 V1082.9 Q2642.0 1086.9 2638.0 1086.9 H2532.0 Z" fill="#673ab7"/>
<text x="2548.4" y="1078.0" font-size="23.5" fill="#fff" text-anchor="start" font-weight="normal" textLength="82.2" lengthAdjust="spacingAndGlyphs">0.4226</text>
<path d="M2532.0 616.0 H2638.0 Q2642.0 616.0 2642.0 620.0 V674.0 Q2642.0 678.0 2638.0 678.0 H2532.0 Z" fill="#f23645"/>
<text x="2548.1" y="640.5" font-size="23.5" fill="#fff" text-anchor="start" font-weight="normal" textLength="82.7" lengthAdjust="spacingAndGlyphs">2.0462</text>
<text x="2548.4" y="668.8" font-size="23.5" fill="rgba(255,255,255,0.72)" text-anchor="start" font-weight="normal" textLength="65.9" lengthAdjust="spacingAndGlyphs">2d 9h</text>
<path d="M2532.0 1091.0 H2626.0 Q2630.0 1091.0 2630.0 1095.0 V1120.8 Q2630.0 1124.8 2626.0 1124.8 H2532.0 Z" fill="#ff9850"/>
<text x="2548.4" y="1116.4" font-size="23.5" fill="#000" text-anchor="start" font-weight="normal" textLength="50.5" lengthAdjust="spacingAndGlyphs">2.17</text>
<text x="2603.7" y="1116.4" font-size="23.5" fill="#000" text-anchor="start" font-weight="normal" textLength="15.5" lengthAdjust="spacingAndGlyphs">B</text>
<path d="M2532.0 1136.0 H2662.0 Q2666.0 1136.0 2666.0 1140.0 V1165.8 Q2666.0 1169.8 2662.0 1169.8 H2532.0 Z" fill="#ef5350"/>
<text x="2548.8" y="1161.0" font-size="23.5" fill="#fff" text-anchor="start" font-weight="normal" textLength="82.1" lengthAdjust="spacingAndGlyphs">483.16</text>
<text x="2633.4" y="1161.0" font-size="23.5" fill="#fff" text-anchor="start" font-weight="normal" textLength="22.3" lengthAdjust="spacingAndGlyphs">M</text>
<g clip-path="url(#taxis)">
<text x="74.0" y="1207.7" font-size="23.5" fill="#131722" text-anchor="start" font-weight="normal" textLength="43.5" lengthAdjust="spacingAndGlyphs">Mar</text>
<text x="212.0" y="1207.7" font-size="23.5" fill="#131722" text-anchor="start" font-weight="normal" textLength="46.7" lengthAdjust="spacingAndGlyphs">May</text>
<text x="344.8" y="1207.7" font-size="23.5" fill="#131722" text-anchor="start" font-weight="normal" textLength="32.9" lengthAdjust="spacingAndGlyphs">Jul</text>
<text x="478.7" y="1207.7" font-size="23.5" fill="#131722" text-anchor="start" font-weight="normal" textLength="43.3" lengthAdjust="spacingAndGlyphs">Sep</text>
<text x="616.9" y="1207.7" font-size="23.5" fill="#131722" text-anchor="start" font-weight="normal" textLength="44.5" lengthAdjust="spacingAndGlyphs">Nov</text>
<text x="748.2" y="1207.7" font-size="23.5" fill="#131722" text-anchor="start" font-weight="bold" textLength="63.3" lengthAdjust="spacingAndGlyphs">2025</text>
<text x="881.6" y="1207.7" font-size="23.5" fill="#131722" text-anchor="start" font-weight="normal" textLength="43.5" lengthAdjust="spacingAndGlyphs">Mar</text>
<text x="1019.7" y="1207.7" font-size="23.5" fill="#131722" text-anchor="start" font-weight="normal" textLength="46.7" lengthAdjust="spacingAndGlyphs">May</text>
<text x="1168.0" y="1207.7" font-size="23.5" fill="#131722" text-anchor="start" font-weight="normal" textLength="32.9" lengthAdjust="spacingAndGlyphs">Jul</text>
<text x="1286.3" y="1207.7" font-size="23.5" fill="#131722" text-anchor="start" font-weight="normal" textLength="43.3" lengthAdjust="spacingAndGlyphs">Sep</text>
<text x="1424.6" y="1207.7" font-size="23.5" fill="#131722" text-anchor="start" font-weight="normal" textLength="44.5" lengthAdjust="spacingAndGlyphs">Nov</text>
<text x="1555.9" y="1207.7" font-size="23.5" fill="#131722" text-anchor="start" font-weight="bold" textLength="63.5" lengthAdjust="spacingAndGlyphs">2026</text>
<text x="1689.3" y="1207.7" font-size="23.5" fill="#131722" text-anchor="start" font-weight="normal" textLength="43.5" lengthAdjust="spacingAndGlyphs">Mar</text>
<text x="1827.3" y="1207.7" font-size="23.5" fill="#131722" text-anchor="start" font-weight="normal" textLength="46.7" lengthAdjust="spacingAndGlyphs">May</text>
<text x="1975.6" y="1207.7" font-size="23.5" fill="#131722" text-anchor="start" font-weight="normal" textLength="32.9" lengthAdjust="spacingAndGlyphs">Jul</text>
<text x="2109.5" y="1207.7" font-size="23.5" fill="#131722" text-anchor="start" font-weight="normal" textLength="43.3" lengthAdjust="spacingAndGlyphs">Sep</text>
<text x="2232.2" y="1207.7" font-size="23.5" fill="#131722" text-anchor="start" font-weight="normal" textLength="44.5" lengthAdjust="spacingAndGlyphs">Nov</text>
<text x="2363.5" y="1207.7" font-size="23.5" fill="#131722" text-anchor="start" font-weight="bold" textLength="63.8" lengthAdjust="spacingAndGlyphs">2027</text>
<text x="2496.9" y="1207.7" font-size="23.5" fill="#131722" text-anchor="start" font-weight="normal" textLength="43.5" lengthAdjust="spacingAndGlyphs">Mar</text>
</g>
<rect x="20" y="54" width="2653" height="1171" fill="none" stroke="#f2f2f3" stroke-width="2" shape-rendering="crispEdges"/>
<g fill="#131313">
<path d="M24 1270.1 H47.9 V1299.9 H35.8 V1282.2 H24 Z"/>
<circle cx="58" cy="1275.9" r="6"/>
<path d="M69.8 1270.1 H84 L72.1 1299.9 H58 Z"/>
</g>
<defs><clipPath id="cv"><rect x="235" y="1269.97" width="45" height="29.88"/></clipPath><clipPath id="cw"><rect x="300" y="1278.05" width="45" height="21.80"/></clipPath></defs>
<g fill="#131313" stroke="none">
<rect x="97.93" y="1269.97" width="22.05" height="5.78"/><rect x="106.0" y="1269.97" width="5.9" height="29.88"/>
<rect x="119.98" y="1278.05" width="5.85" height="21.80"/>
<rect x="150.11" y="1278.05" width="5.85" height="21.80"/>
<rect x="186.09" y="1278.05" width="5.85" height="21.80"/>
<rect x="195.93" y="1278.05" width="5.85" height="21.80"/>
<rect x="274.07" y="1278.05" width="5.85" height="21.80"/>
<rect x="176.0" y="1269.97" width="5.9" height="29.88"/>
<circle cx="189.0" cy="1272.35" r="3.8"/><circle cx="276.97" cy="1272.35" r="3.8"/>
<rect x="288" y="1286.22" width="18.0" height="4.3"/>
</g>
<g fill="none" stroke="#131313" stroke-width="5.86">
<path d="M122.9 1293 C122.9 1285.5 126.5 1280.95 132.85 1280.95" stroke-width="5.75"/>
<ellipse cx="144.9" cy="1289.05" rx="8.5" ry="9.0" stroke-width="5.7"/>
<ellipse cx="171.0" cy="1289.05" rx="8.5" ry="9.0" stroke-width="5.7"/>
<path d="M212.97 1299.85 V1287.05 A7.05 7.05 0 0 0 198.88 1287.05"/>
<ellipse cx="231.0" cy="1288.9" rx="8.5" ry="9.0" stroke-width="5.7"/>
<path d="M239.07 1278.05 V1296 C239.07 1303 235.5 1306.5 230.5 1306.5 C227 1306.5 224 1305.3 222.1 1303.9"/>
<path d="M303.75 1289.0 A8.75 8.85 0 1 0 302.65 1293.3"/>
<polyline points="242.08,1263.99 256.92,1299.86 270.84,1263.99" stroke-width="6.52" stroke-linejoin="miter" stroke-miterlimit="10" clip-path="url(#cv)"/>
<polyline points="307.1,1272 315.84,1299.85 323.5,1275.4 331.2,1299.85 338.93,1272" stroke-width="5.53" stroke-linejoin="miter" stroke-miterlimit="10" clip-path="url(#cw)"/>
</g>
</svg></body></html>
